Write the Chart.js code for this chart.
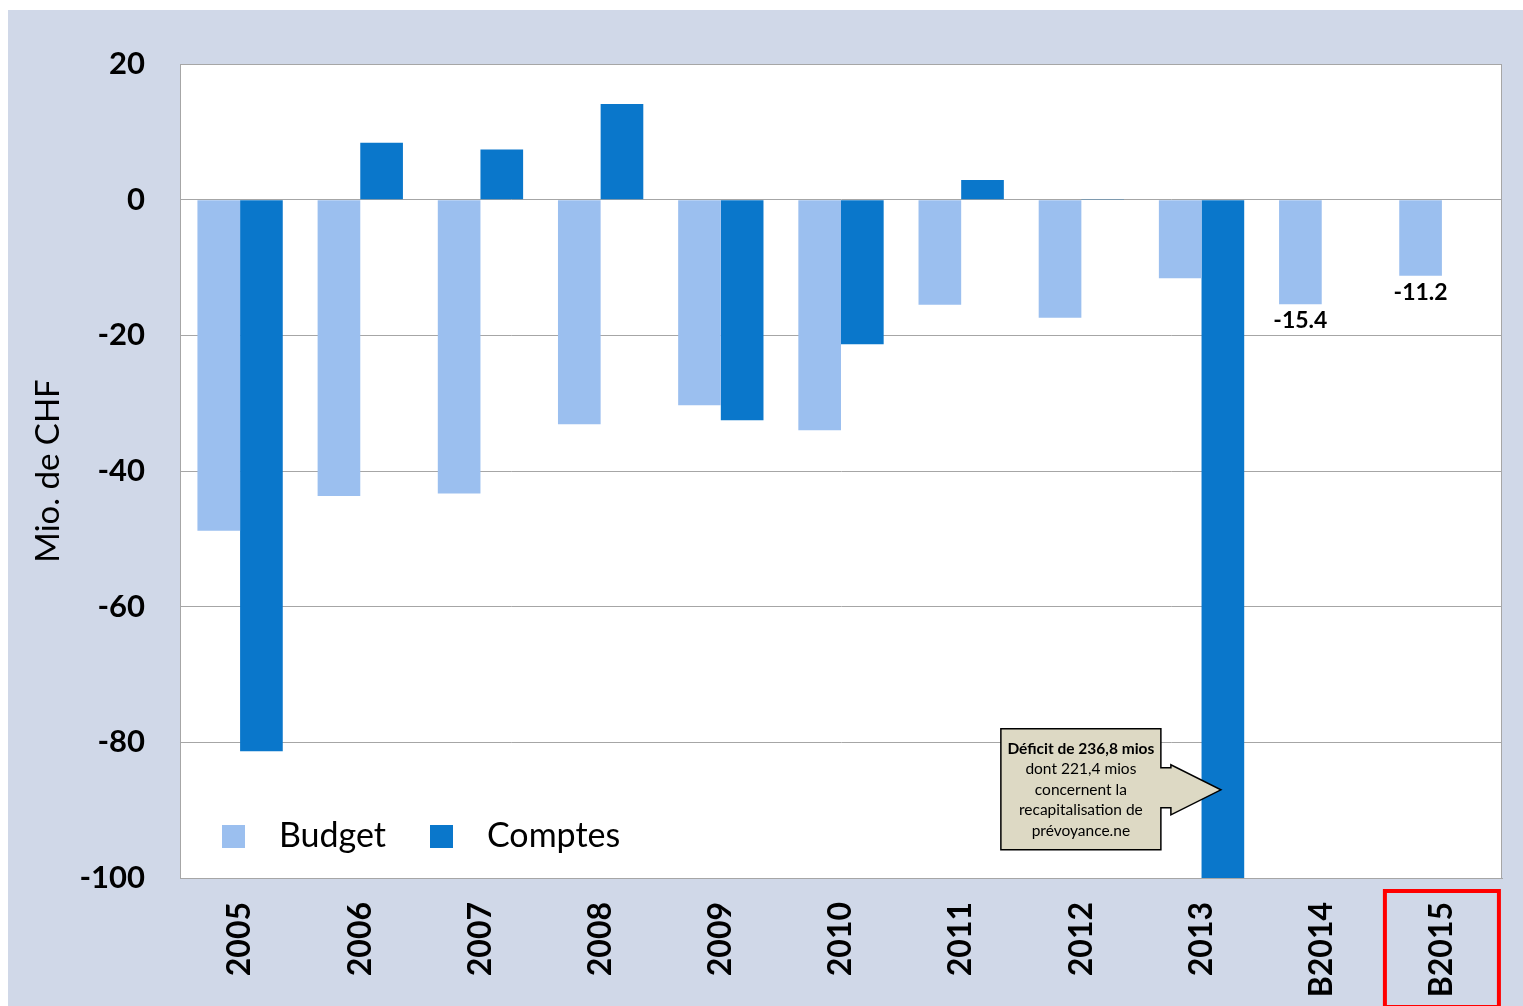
<!DOCTYPE html>
<html>
<head>
<meta charset="utf-8">
<script src="https://cdn.jsdelivr.net/npm/chart.js@4/dist/chart.umd.min.js"></script>
<style>
  html, body { margin: 0; padding: 0; background: #fff; }
  canvas { display: block; }
</style>
</head>
<body>
<canvas id="deficitChart" width="1523" height="1006"></canvas>
<script>
/* ── Données (Mio. CHF) ── */
const years   = ['2005','2006','2007','2008','2009','2010','2011','2012','2013','B2014','B2015'];
const budget  = [-48.8, -43.7, -43.3, -33.1, -30.3, -34.0, -15.5, -17.4, -11.6, -15.4, -11.2];
const comptes = [-81.3,   8.4,   7.4,  14.1, -32.5, -21.3,   2.9,   0.1, -236.8, null, null];
const labelledBudget = [9, 10];          // barres budget avec étiquette
const calloutIndex = 8;                  // 2013
const calloutValue = -87;
const calloutLines = ['Déficit de 236,8 mios', 'dont 221,4 mios', 'concernent la', 'recapitalisation de', 'prévoyance.ne'];
const highlightIndex = 10;               // B2015 encadré en rouge

const PANEL = '#d0d8e8';
const C_BUDGET = '#9bbfef';
const C_COMPTES = '#0a77cb';
const GRID = '#a6a6a6';
const FONT = 'Lato, "Open Sans", sans-serif';

/* ── Fond + cadre ── */
const backgroundPlugin = {
  id: 'background',
  beforeDraw(chart) {
    const { ctx, chartArea: a } = chart;
    ctx.save();
    ctx.fillStyle = '#fff';
    ctx.fillRect(0, 0, chart.width, chart.height);
    ctx.fillStyle = PANEL;
    ctx.fillRect(8, 10, chart.width - 8, chart.height - 10);
    ctx.fillStyle = '#fff';
    ctx.fillRect(a.left, a.top, a.right - a.left, a.bottom - a.top);
    ctx.restore();
  },
  afterDraw(chart) {
    const { ctx, chartArea: a } = chart;
    ctx.save();
    ctx.strokeStyle = GRID;
    ctx.lineWidth = 1;
    ctx.strokeRect(a.left + 0.5, a.top + 0.5, a.right - a.left - 1, a.bottom - a.top);
    ctx.restore();
  }
};

/* ── Légende interne, étiquettes, bulle, encadré ── */
const extrasPlugin = {
  id: 'extras',
  afterDatasetsDraw(chart) {
    const { ctx, chartArea: a, scales: { y } } = chart;
    ctx.save();

    // légende
    const items = [['Budget', C_BUDGET], ['Comptes', C_COMPTES]];
    let lx = a.left + 42;
    const ly = a.bottom - 42;
    ctx.font = '34px ' + FONT;
    ctx.textBaseline = 'middle';
    ctx.textAlign = 'left';
    items.forEach(([txt, col]) => {
      ctx.fillStyle = col;
      ctx.fillRect(lx, ly - 11, 23, 23);
      ctx.fillStyle = '#000';
      ctx.fillText(txt, lx + 57, ly);
      lx += 208;
    });

    // étiquettes de valeur
    const meta = chart.getDatasetMeta(0);
    ctx.font = 'bold 23px ' + FONT;
    ctx.textAlign = 'center';
    ctx.textBaseline = 'top';
    labelledBudget.forEach(i => {
      const bar = meta.data[i];
      ctx.fillStyle = '#000';
      ctx.fillText(budget[i].toFixed(1), bar.x, bar.y + 5);
    });

    // bulle 2013
    const bar13 = chart.getDatasetMeta(1).data[calloutIndex];
    const tipX = bar13.x - 2;
    const tipY = y.getPixelForValue(calloutValue);
    const bx1 = tipX - 60, bx0 = bx1 - 160;
    const by0 = tipY - 61, by1 = tipY + 60;
    ctx.beginPath();
    ctx.moveTo(bx0, by0);
    ctx.lineTo(bx1, by0);
    ctx.lineTo(bx1, tipY - 22);
    ctx.lineTo(bx1 + 10, tipY - 22);
    ctx.lineTo(bx1 + 10, tipY - 25);
    ctx.lineTo(tipX, tipY);
    ctx.lineTo(bx1 + 10, tipY + 25);
    ctx.lineTo(bx1 + 10, tipY + 18);
    ctx.lineTo(bx1, tipY + 18);
    ctx.lineTo(bx1, by1);
    ctx.lineTo(bx0, by1);
    ctx.closePath();
    ctx.fillStyle = '#ddd9c4';
    ctx.fill();
    ctx.strokeStyle = '#000';
    ctx.lineWidth = 1.5;
    ctx.stroke();
    ctx.fillStyle = '#000';
    ctx.textBaseline = 'middle';
    calloutLines.forEach((ln, k) => {
      ctx.font = (k === 0 ? 'bold ' : '') + '15.5px ' + FONT;
      ctx.fillText(ln, (bx0 + bx1) / 2, by0 + 20 + k * 20.5);
    });
    ctx.restore();
  },
  afterDraw(chart) {
    const { ctx, scales: { x } } = chart;
    const cx = x.getPixelForValue(highlightIndex);
    ctx.save();
    ctx.strokeStyle = '#ff0000';
    ctx.lineWidth = 4;
    ctx.strokeRect(cx - 57, 891, 114, 116);
    ctx.restore();
  }
};

new Chart(document.getElementById('deficitChart').getContext('2d'), {
  type: 'bar',
  data: {
    labels: years,
    datasets: [
      { label: 'Budget', data: budget, backgroundColor: C_BUDGET, barPercentage: 1, categoryPercentage: 0.71 },
      { label: 'Comptes', data: comptes, backgroundColor: C_COMPTES, barPercentage: 1, categoryPercentage: 0.71 }
    ]
  },
  options: {
    responsive: false,
    animation: false,
    layout: { padding: { top: 64, right: 21, left: 0, bottom: 0 } },
    plugins: { legend: { display: false }, tooltip: { enabled: false } },
    scales: {
      x: {
        afterFit: s => { s.height = 128; },
        grid: { display: false, drawTicks: false },
        border: { display: true, color: GRID },
        ticks: {
          color: '#000',
          font: { family: FONT, size: 32, weight: 'bold' },
          minRotation: 90, maxRotation: 90,
          padding: 24
        }
      },
      y: {
        min: -100, max: 20,
        afterFit: s => { s.width = 180; },
        grid: { color: GRID, drawTicks: false },
        border: { display: true, color: GRID },
        ticks: {
          stepSize: 20,
          color: '#000',
          padding: 35,
          font: { family: FONT, size: 31, weight: 'bold' }
        },
        title: {
          display: true,
          text: 'Mio. de CHF',
          color: '#000',
          padding: { top: 29, bottom: 0 },
          font: { family: FONT, size: 33 }
        }
      }
    }
  },
  plugins: [backgroundPlugin, extrasPlugin]
});
</script>
</body>
</html>
